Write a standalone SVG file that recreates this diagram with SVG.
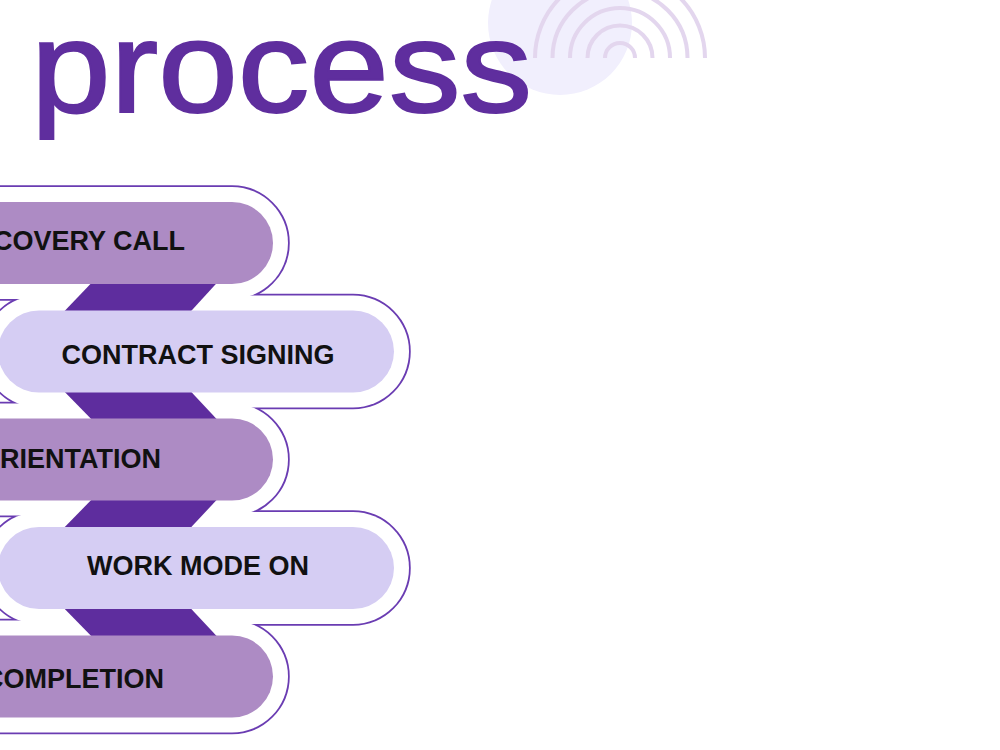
<svg xmlns="http://www.w3.org/2000/svg" width="1000" height="750" viewBox="0 0 1000 750">
  <style>
    .ol { fill: none; stroke: #6a3cb2; stroke-width: 3.5; }
    .olw { fill: #ffffff; stroke: none; }
    .band { fill: #5e2d9e; }
    .dark { fill: #ad8bc4; }
    .light { fill: #d5cdf3; }
    .lbl { font-family: "Liberation Sans", Arial, sans-serif; font-weight: bold; font-size: 27px; fill: #111111; }
    .arc { fill: none; stroke: #e3d6ee; stroke-width: 4; }
  </style>
  <rect x="0" y="0" width="1000" height="750" fill="#ffffff"/>

  <g id="decoration">
    <circle cx="560" cy="23" r="72" fill="#f1effd"/>
    <path class="arc" d="M605 58 A15 15 0 0 1 635 58"/>
    <path class="arc" d="M587.5 58 A32.5 32.5 0 0 1 652.5 58"/>
    <path class="arc" d="M570 58 A50 50 0 0 1 670 58"/>
    <path class="arc" d="M552.5 58 A67.5 67.5 0 0 1 687.5 58"/>
    <path class="arc" d="M535 58 A85 85 0 0 1 705 58"/>
  </g>

  <g id="title">
    <text x="31" y="112" font-family="'Liberation Sans', Arial, sans-serif" font-size="129" fill="#5f2e9e" stroke="#5f2e9e" stroke-width="2" textLength="501" lengthAdjust="spacingAndGlyphs">process</text>
  </g>

  <g id="outlines">
    <rect class="ol" x="-100" y="187" width="388" height="112" rx="56"/>
    <rect class="ol" x="-17" y="295.5" width="426" height="112" rx="56"/>
    <rect class="ol" x="-100" y="403.5" width="388" height="112" rx="56"/>
    <rect class="ol" x="-17" y="512" width="426" height="112" rx="56"/>
    <rect class="ol" x="-100" y="620.5" width="388" height="112" rx="56"/>
    <rect class="olw" x="-100" y="187" width="388" height="112" rx="56"/>
    <rect class="olw" x="-17" y="295.5" width="426" height="112" rx="56"/>
    <rect class="olw" x="-100" y="403.5" width="388" height="112" rx="56"/>
    <rect class="olw" x="-17" y="512" width="426" height="112" rx="56"/>
    <rect class="olw" x="-100" y="620.5" width="388" height="112" rx="56"/>
  </g>

  <g id="connectors">
    <polygon class="band" points="100,274 225,274 182,321 55,321"/>
    <polygon class="band" points="55,382 182,382 225,428 100,428"/>
    <polygon class="band" points="100,491 225,491 182,537 55,537"/>
    <polygon class="band" points="55,599 182,599 225,645 100,645"/>
  </g>

  <g id="step1">
    <rect class="dark" x="-100" y="202" width="373" height="82" rx="41"/>
    <text class="lbl" x="185" y="250" text-anchor="end">COVERY CALL</text>
  </g>
  <g id="step2">
    <rect class="light" x="-2" y="310.5" width="396" height="82" rx="41"/>
    <text class="lbl" x="198" y="364" text-anchor="middle">CONTRACT SIGNING</text>
  </g>
  <g id="step3">
    <rect class="dark" x="-100" y="418.5" width="373" height="82" rx="41"/>
    <text class="lbl" x="161" y="468" text-anchor="end">RIENTATION</text>
  </g>
  <g id="step4">
    <rect class="light" x="-2" y="527" width="396" height="82" rx="41"/>
    <text class="lbl" x="198" y="575" text-anchor="middle">WORK MODE ON</text>
  </g>
  <g id="step5">
    <rect class="dark" x="-100" y="635.5" width="373" height="82" rx="41"/>
    <text class="lbl" x="164" y="688" text-anchor="end">COMPLETION</text>
  </g>
</svg>
